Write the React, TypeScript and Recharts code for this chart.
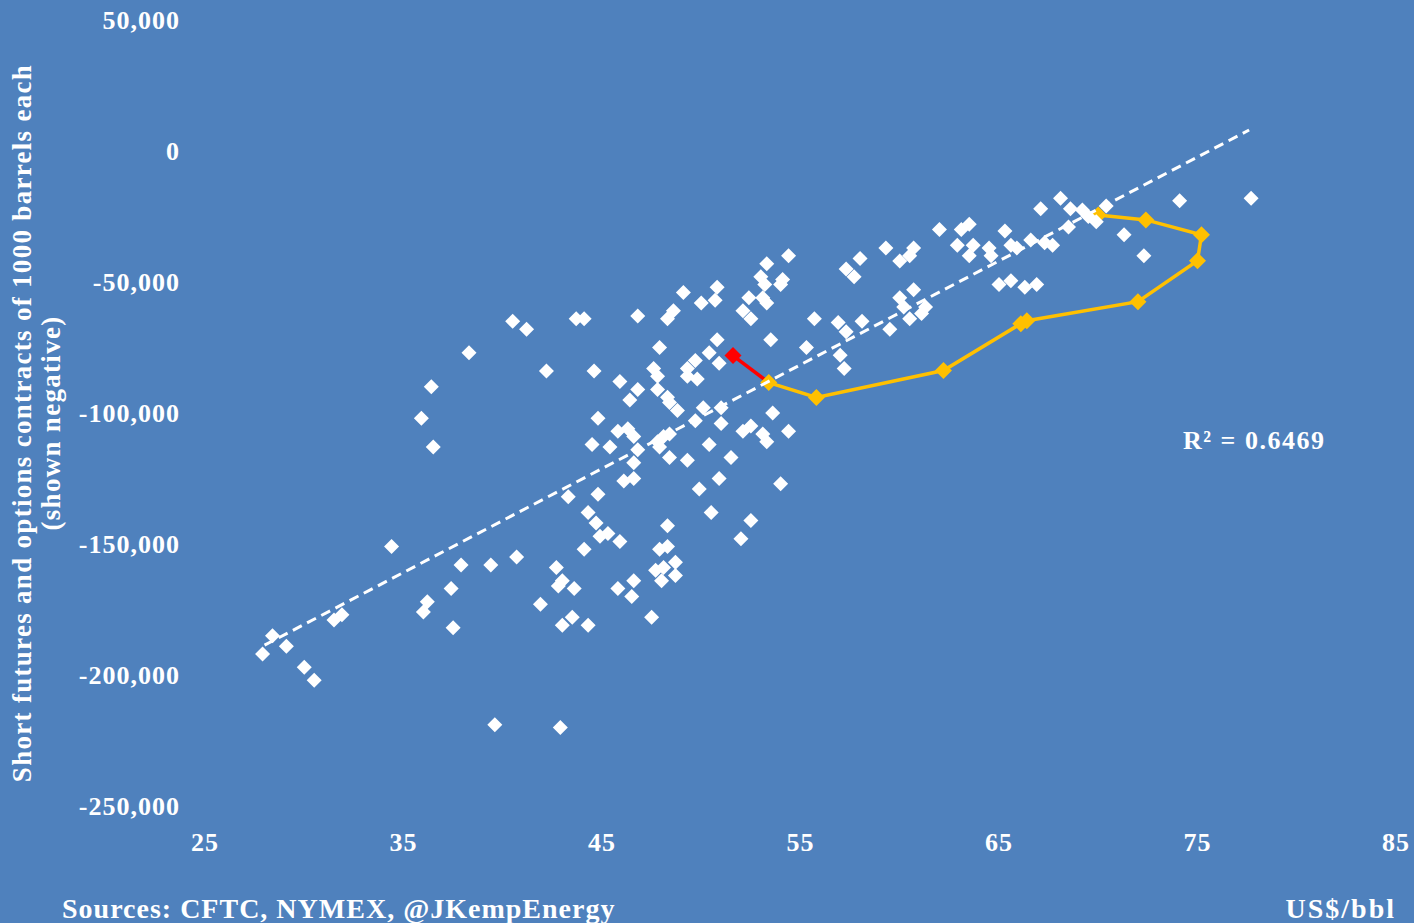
import { ScatterChart, Scatter, XAxis, YAxis } from "recharts"

const BG = "#4F81BD"
const FONT = '"Liberation Serif", "Times New Roman", serif'

// weekly observations: [Brent price US$/bbl, short positions in thousand contracts]
const weeklyPoints: [number, number][] = [
  [27.9, -192], [28.4, -185], [29.1, -189], [30.0, -197], [30.5, -202], [31.5, -179], [31.9, -177],
  [34.4, -151], [36.2, -172], [36.0, -176], [37.4, -167], [37.5, -182], [37.9, -158], [39.4, -158],
  [40.7, -155], [39.6, -219], [42.9, -220], [41.9, -173], [42.7, -159], [43.0, -164], [42.8, -166],
  [43.6, -167], [43.0, -181], [43.5, -178], [44.3, -181], [44.1, -152], [44.7, -142], [45.3, -146],
  [45.9, -149], [45.8, -167], [46.6, -164], [46.5, -170],
  [40.5, -65], [41.2, -68], [38.3, -77], [36.4, -90], [35.9, -102], [36.5, -113], [42.2, -84],
  [43.7, -64], [44.1, -64], [44.6, -84], [44.8, -102], [44.5, -112], [43.3, -132], [44.8, -131],
  [44.3, -138], [44.9, -147],
  [54.4, -40], [53.3, -43], [53.0, -48], [53.2, -51], [54.1, -49], [54.0, -51], [53.1, -56],
  [53.3, -58], [52.4, -56], [52.1, -61], [52.5, -64], [50.8, -52], [50.7, -57], [50.0, -58],
  [49.1, -54], [48.6, -61], [48.3, -64], [46.8, -63], [55.7, -64], [53.5, -72], [55.3, -75],
  [50.8, -72], [47.9, -75], [50.4, -77], [50.9, -81], [49.7, -80], [49.3, -83], [49.3, -86],
  [49.8, -87], [45.9, -88], [46.8, -91], [46.4, -95], [47.6, -83], [47.8, -86], [47.8, -91],
  [48.3, -94], [48.4, -96], [48.8, -99], [45.8, -107], [46.3, -106], [46.6, -109], [46.8, -114],
  [45.4, -113], [47.8, -111], [48.1, -109], [48.4, -108], [47.9, -113], [48.4, -117], [49.3, -118],
  [49.7, -103], [50.1, -98], [51.0, -98], [51.0, -104], [50.4, -112], [51.5, -117], [50.9, -125],
  [49.9, -129], [46.6, -119], [46.1, -126], [46.6, -125], [53.6, -100], [54.4, -107], [52.1, -107],
  [52.5, -105], [53.1, -108], [53.3, -111], [54.0, -127],
  [48.3, -143], [47.9, -152], [48.3, -151], [47.7, -160], [48.1, -159], [48.7, -157], [48.7, -162],
  [48.0, -164], [47.5, -178], [50.5, -138], [52.0, -148], [52.5, -141],
  [68.1, -18], [68.6, -22], [69.2, -22.5], [69.5, -25], [69.9, -27], [70.4, -21], [67.1, -22],
  [74.1, -19], [77.7, -18], [71.3, -32], [72.3, -40], [68.5, -29], [67.7, -36], [67.3, -35],
  [66.6, -34], [65.9, -37], [65.6, -36], [65.3, -30.5], [64.5, -37], [64.6, -40], [63.7, -36],
  [63.5, -40], [62.9, -36], [63.1, -30], [63.5, -28], [62.0, -30], [60.7, -37], [60.5, -40],
  [60.0, -42], [59.3, -37], [58.0, -41], [57.3, -45], [57.7, -48], [65.0, -51], [65.6, -49.5],
  [66.3, -52], [66.9, -51], [60.7, -53], [60.0, -56], [60.2, -59.5], [60.5, -64], [61.3, -59.5],
  [61.1, -62], [59.5, -68], [58.1, -65], [56.9, -65.5], [57.3, -69], [57.0, -78], [57.2, -83],
]

// most recent weeks, oldest first
const recentPath: [number, number][] = [
  [70.0, -24.4], [72.4, -26.3], [75.2, -32.0], [75.0, -41.9], [72.0, -57.5], [66.4, -64.8],
  [66.1, -65.9], [62.2, -83.8], [55.8, -94.1], [53.4, -88.4],
]

// last week's move
const latestMove: [number, number][] = [[53.4, -88.4], [51.6, -78.1]]

// linear trendline ends
const trendEnds: [number, number][] = [[28.0, -188.6], [77.6, 8.0]]

const xTicks = [25, 35, 45, 55, 65, 75, 85]
const yTicks = [-250000, -200000, -150000, -100000, -50000, 0, 50000]

const toRows = (pts: [number, number][]) => pts.map(([x, y]) => ({ x, y: y * 1000 }))

const diamond = (r: number, fill: string) => (props: any) => {
  const { cx, cy } = props
  if (cx == null || cy == null) return <g />
  return (
    <polygon
      points={`${cx},${cy - r} ${cx + r},${cy} ${cx},${cy + r} ${cx - r},${cy}`}
      fill={fill}
    />
  )
}

const whiteDiamond = diamond(7.5, "#FFFFFF")
const goldDiamond = diamond(8.5, "#FFC000")
const redDiamond = diamond(8.5, "#FF0000")

const tickStyle = { fill: "#FFFFFF", fontSize: 26, fontWeight: 700, fontFamily: FONT, letterSpacing: 1 }

const textStyle: React.CSSProperties = {
  position: "absolute",
  color: "#FFFFFF",
  fontFamily: FONT,
  fontWeight: 700,
  whiteSpace: "nowrap",
  lineHeight: 1,
}

export default function App() {
  return (
    <div style={{ position: "absolute", left: 0, top: 0, width: 1414, height: 923, background: BG, overflow: "hidden" }}>
      <ScatterChart width={1414} height={923} margin={{ top: 20, right: 18, bottom: 57, left: 85 }}>
        <XAxis
          type="number"
          dataKey="x"
          domain={[25, 85]}
          ticks={xTicks}
          axisLine={false}
          tickLine={false}
          tickSize={0}
          tickMargin={27}
          height={60}
          tick={tickStyle}
        />
        <YAxis
          type="number"
          dataKey="y"
          domain={[-250000, 50000]}
          ticks={yTicks}
          axisLine={false}
          tickLine={false}
          tickSize={0}
          tickMargin={25}
          width={120}
          tick={tickStyle}
          tickFormatter={(v: number) => v.toLocaleString("en-US")}
        />
        <Scatter
          data={toRows(latestMove)}
          fill="#FF0000"
          line={{ stroke: "#FF0000", strokeWidth: 3.5 }}
          shape={(p: any) => (p.index === latestMove.length - 1 ? redDiamond(p) : <g />)}
          isAnimationActive={false}
        />
        <Scatter
          data={toRows(recentPath)}
          fill="#FFC000"
          line={{ stroke: "#FFC000", strokeWidth: 3.5 }}
          shape={goldDiamond}
          isAnimationActive={false}
        />
        <Scatter data={toRows(weeklyPoints)} fill="#FFFFFF" shape={whiteDiamond} isAnimationActive={false} />
        <Scatter
          data={toRows(trendEnds)}
          fill="#FFFFFF"
          line={{ stroke: "#FFFFFF", strokeWidth: 3, strokeDasharray: "10 6" }}
          shape={() => <g />}
          isAnimationActive={false}
        />
      </ScatterChart>

      <div style={{ ...textStyle, left: 22, top: 423, fontSize: 27, letterSpacing: 1.3, transform: "translate(-50%, -50%) rotate(-90deg)" }}>
        Short futures and options contracts of 1000 barrels each
      </div>
      <div style={{ ...textStyle, left: 51, top: 423, fontSize: 27, letterSpacing: 1.3, transform: "translate(-50%, -50%) rotate(-90deg)" }}>
        (shown negative)
      </div>
      <div style={{ ...textStyle, left: 1183, top: 428, fontSize: 26, letterSpacing: 1.5 }}>R² = 0.6469</div>
      <div style={{ ...textStyle, left: 62, top: 895, fontSize: 28, letterSpacing: 1 }}>
        Sources: CFTC, NYMEX, @JKempEnergy
      </div>
      <div style={{ ...textStyle, right: 18, top: 895, fontSize: 28, letterSpacing: 2 }}>US$/bbl</div>
    </div>
  )
}
